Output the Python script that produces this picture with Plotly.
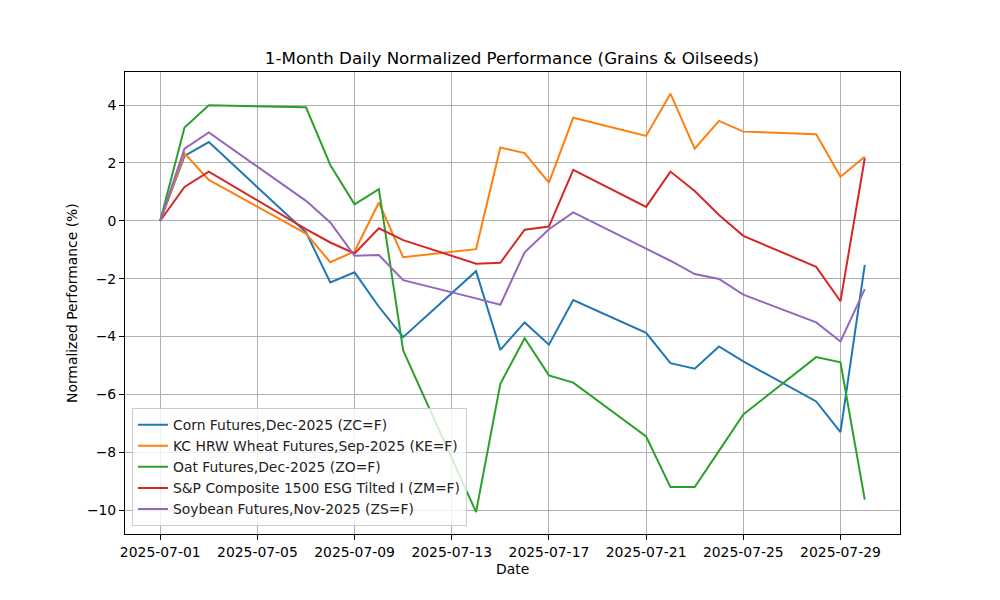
import pandas as pd
import plotly.graph_objects as go

dates = ["2025-07-01", "2025-07-02", "2025-07-03", "2025-07-07", "2025-07-08",
         "2025-07-09", "2025-07-10", "2025-07-11", "2025-07-14", "2025-07-15",
         "2025-07-16", "2025-07-17", "2025-07-18", "2025-07-21", "2025-07-22",
         "2025-07-23", "2025-07-24", "2025-07-25", "2025-07-28", "2025-07-29",
         "2025-07-30"]

corn = [0.0, 2.24, 2.72, -0.40, -2.13, -1.78, -2.97, -4.02, -1.74, -4.46,
        -3.51, -4.28, -2.74, -3.87, -4.92, -5.11, -4.34, -4.86, -6.24, -7.30, -1.52]
wheat = [0.0, 2.33, 1.41, -0.44, -1.43, -1.06, 0.63, -1.26, -0.98, 2.53,
         2.34, 1.32, 3.56, 2.93, 4.39, 2.49, 3.45, 3.08, 2.99, 1.52, 2.21]
oat = [0.0, 3.22, 3.99, 3.92, 1.93, 0.57, 1.09, -4.48, -10.06, -5.63,
       -4.06, -5.34, -5.59, -7.45, -9.20, -9.20, -7.95, -6.69, -4.71, -4.89, -9.63]
esg = [0.0, 1.17, 1.70, -0.29, -0.75, -1.13, -0.26, -0.67, -1.48, -1.45,
       -0.31, -0.20, 1.76, 0.48, 1.70, 1.03, 0.20, -0.52, -1.59, -2.78, 2.16]
soy = [0.0, 2.49, 3.05, 0.69, -0.06, -1.21, -1.18, -2.05, -2.68, -2.90,
       -1.09, -0.29, 0.29, -0.95, -1.38, -1.84, -2.01, -2.55, -3.51, -4.17, -2.36]

names = ["Corn Futures,Dec-2025 (ZC=F)",
         "KC HRW Wheat Futures,Sep-2025 (KE=F)",
         "Oat Futures,Dec-2025 (ZO=F)",
         "S&P Composite 1500 ESG Tilted I (ZM=F)",
         "Soybean Futures,Nov-2025 (ZS=F)"]
colors = ["#1f77b4", "#ff7f0e", "#2ca02c", "#d62728", "#9467bd"]
series = [corn, wheat, oat, esg, soy]

tick_dates = ["2025-07-01", "2025-07-05", "2025-07-09", "2025-07-13",
              "2025-07-17", "2025-07-21", "2025-07-25", "2025-07-29"]

x = pd.to_datetime(dates)
fig = go.Figure()
for n, c, s in zip(names, colors, series):
    fig.add_trace(go.Scatter(x=x, y=s, mode="lines", name=n,
                             line=dict(color=c, width=2)))

xmin = x.min() - pd.Timedelta(days=1.45)
xmax = x.max() + pd.Timedelta(days=1.45)

font = "DejaVu Sans, sans-serif"
fig.update_layout(
    width=1000, height=600,
    margin=dict(l=117, r=108, t=64, b=74),
    paper_bgcolor="white", plot_bgcolor="white",
    font=dict(family=font, size=13.9, color="black"),
    title=dict(text="1-Month Daily Normalized Performance (Grains & Oilseeds)",
               x=(512 - 8) / 1000, xanchor="center", y=1 - 50 / 600, yanchor="middle",
               font=dict(size=16.7, color="black")),
    showlegend=True,
    legend=dict(x=0.009, y=0.017, xanchor="left", yanchor="bottom",
                bgcolor="rgba(255,255,255,0.8)", bordercolor="#cccccc",
                borderwidth=1, font=dict(size=13.9, color="#222222"),
                itemwidth=30, tracegroupgap=0),
)
fig.update_xaxes(
    range=[xmin, xmax], tickvals=pd.to_datetime(tick_dates), ticktext=tick_dates,
    showgrid=True, gridcolor="#b0b0b0", gridwidth=1,
    showline=True, linecolor="black", linewidth=1, mirror=True,
    ticks="outside", ticklen=5, tickcolor="black", zeroline=False,
)
fig.update_yaxes(
    range=[-10.82, 5.14], tickvals=[-10, -8, -6, -4, -2, 0, 2, 4],
    ticktext=["\u221210", "\u22128", "\u22126", "\u22124", "\u22122", "0", "2", "4"],
    showgrid=True, gridcolor="#b0b0b0", gridwidth=1,
    showline=True, linecolor="black", linewidth=1, mirror=True,
    ticks="outside", ticklen=5, tickcolor="black", zeroline=False,
)
fig.add_annotation(text="Date", xref="paper", yref="paper", x=0.5, y=-(569 - 534) / 462,
                   xanchor="center", yanchor="middle", showarrow=False,
                   font=dict(size=13.9, color="black"))
fig.add_annotation(text="Normalized Performance (%)", xref="paper", yref="paper",
                   x=-(125 - 72) / 775, y=0.5, xanchor="center", yanchor="middle",
                   textangle=-90, showarrow=False, font=dict(size=13.9, color="black"))

fig.write_html("out.html")
